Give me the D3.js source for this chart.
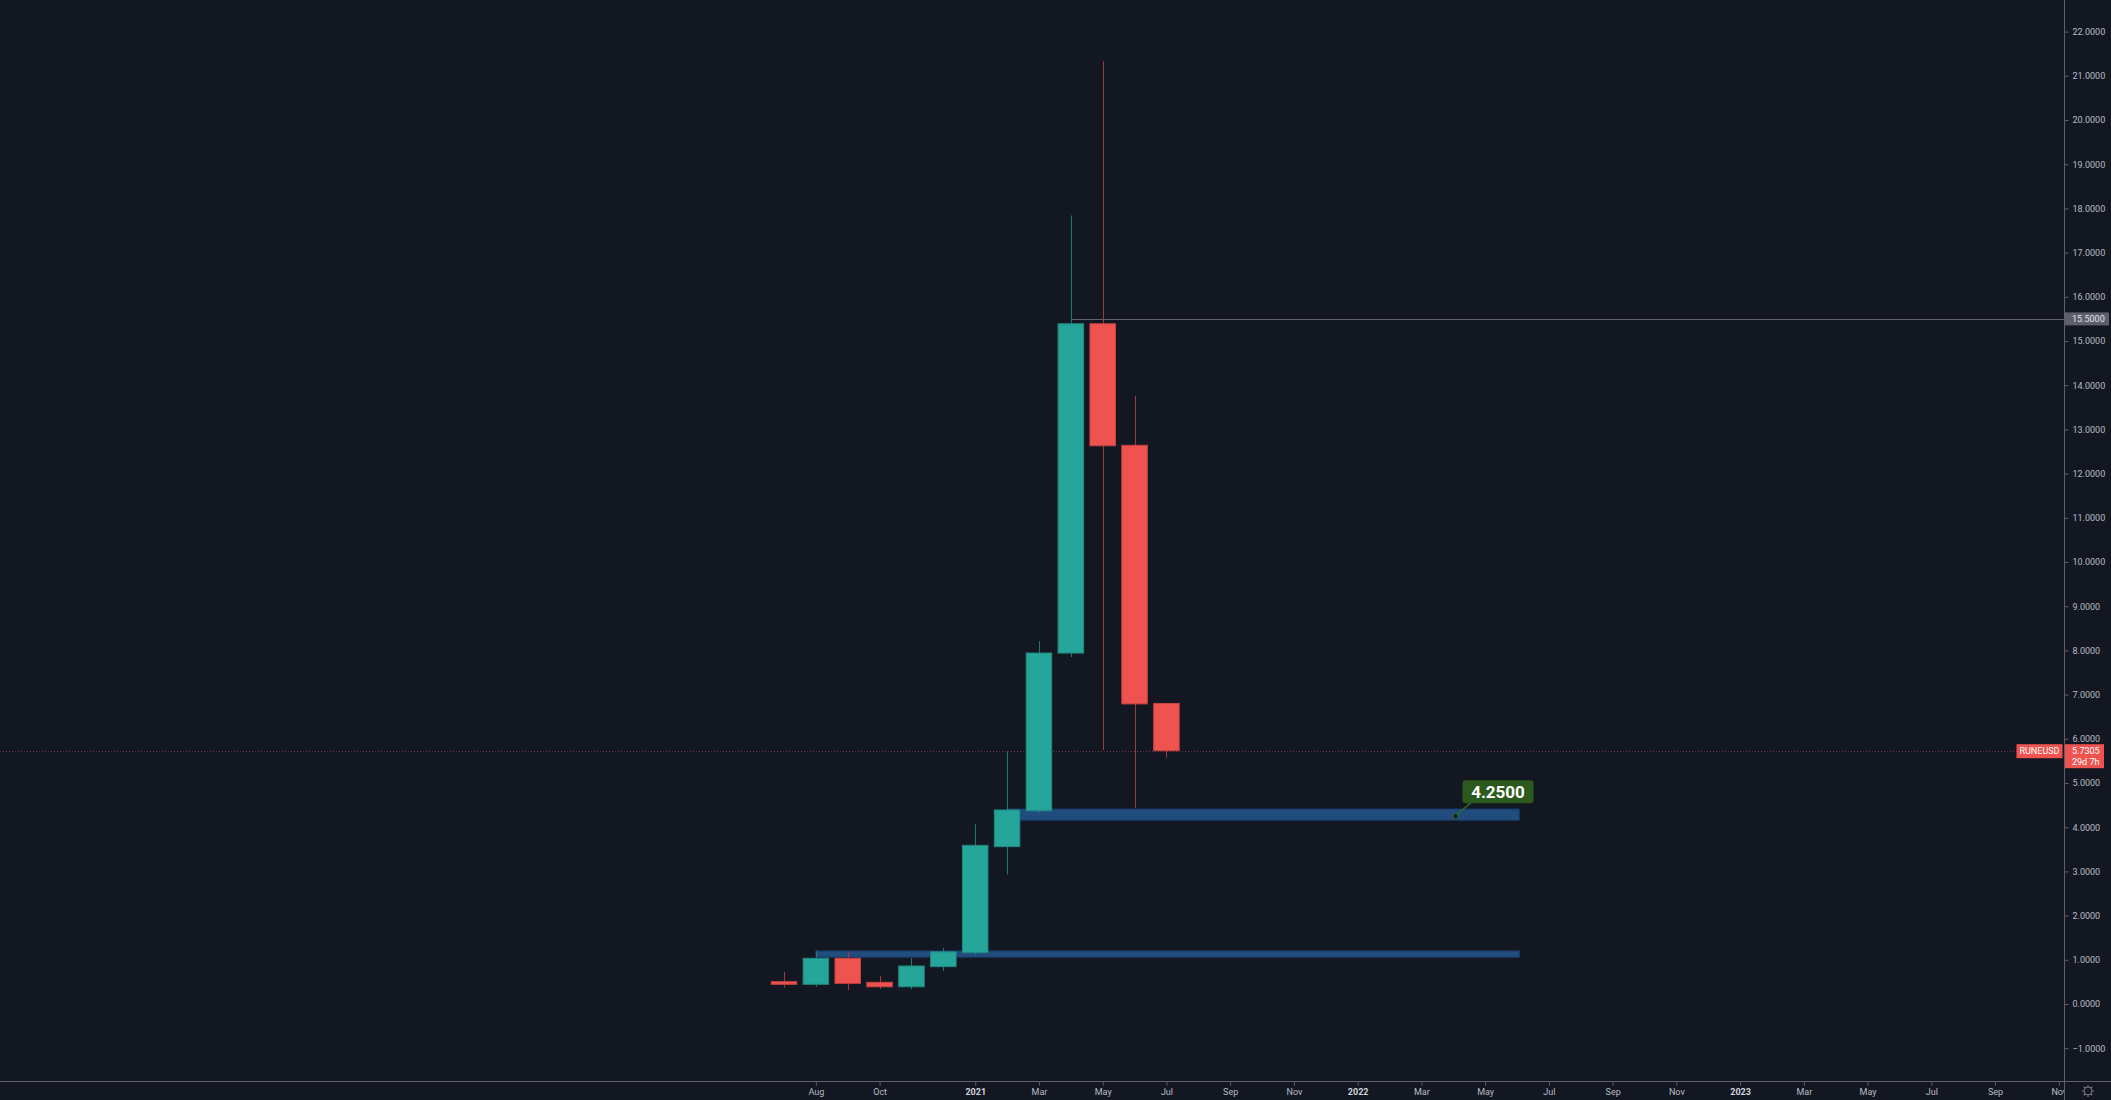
<!DOCTYPE html>
<html>
<head>
<meta charset="utf-8">
<script src="https://cdnjs.cloudflare.com/ajax/libs/d3/7.8.5/d3.min.js"></script>
<style>
	html, body { margin: 0; padding: 0; background: #131722; overflow: hidden; }
	svg { display: block; }
</style>
</head>
<body>
<div id="chart"></div>
<script>
// Monthly RUNEUSD candles, Jul 2020 .. Jul 2021 (index 0 = Jul 2020)
var months = ["2020-07", "2020-08", "2020-09", "2020-10", "2020-11", "2020-12",
              "2021-01", "2021-02", "2021-03", "2021-04", "2021-05", "2021-06", "2021-07"];
var opens  = [0.505, 0.446, 1.034, 0.49, 0.39, 0.845, 1.16, 3.56, 4.37, 7.94, 15.39, 12.64, 6.80];
var highs  = [0.724, 1.20, 1.18, 0.633, 1.04, 1.27, 4.07, 5.72, 8.21, 17.84, 21.33, 13.76, 6.80];
var lows   = [0.369, 0.39, 0.317, 0.333, 0.33, 0.75, 1.10, 2.93, 4.33, 7.85, 5.74, 4.44, 5.57];
var closes = [0.446, 1.034, 0.468, 0.39, 0.86, 1.18, 3.59, 4.39, 7.94, 15.39, 12.63, 6.79, 5.7305];

// Time axis labels (bar index from Jul 2020)
var tickMonths = [1, 3, 6, 8, 10, 12, 14, 16, 18, 20, 22, 24, 26, 28, 30, 32, 34, 36, 38, 40];
var monthNames = ["Jan", "Feb", "Mar", "Apr", "May", "Jun", "Jul", "Aug", "Sep", "Oct", "Nov", "Dec"];

// Price ticks
var priceTicks = d3.range(-1, 23, 1);

// Drawings: support zones (values and month index span)
var zoneTops    = [4.41, 1.20];
var zoneBottoms = [4.16, 1.06];
var zoneStarts  = [7, 1];
var zoneEnds    = [23.07, 23.07];

var calloutValue = 4.25;
var calloutIndex = 21.07;
var levelValue = 15.5;
var levelStart = 9;
var lastPrice = 5.7305;
var countdown = "29d 7h";
var symbol = "RUNEUSD";

var width = 2111, height = 1100;
var axisX = 2064, axisY = 1081;
var upColor = "#26a69a", downColor = "#ef5350";
var textColor = "#b8bbc3";
var fontFamily = "Roboto, 'Liberation Sans', Arial, sans-serif";
var fontSize = "9px";

var svg = d3.select("#chart")
	.append("svg")
		.attr("width", width)
		.attr("height", height);

svg.append("rect")
	.attr("width", width)
	.attr("height", height)
	.attr("fill", "#131722");

// Scales: bars are evenly spaced by index, like the original chart
var xScale = d3.scaleLinear()
	.domain([0, 40])
	.range([784, 784 + 31.87 * 40]);
var yScale = d3.scaleLinear()
	.domain([0, 22])
	.range([1004, 1004 - 44.2 * 22]);

var barW = 31.87 * 0.8;

svg.append("clipPath").attr("id", "plot-clip")
	.append("rect").attr("x", 0).attr("y", 0).attr("width", axisX).attr("height", axisY);

var plot = svg.append("g").attr("clip-path", "url(#plot-clip)");

// ------------------------------------------------------------------------
//		Zones
// ------------------------------------------------------------------------
plot.selectAll(".zone")
	.data(zoneTops)
	.enter().append("rect")
		.attr("class", "zone")
		.attr("x", function(d, i) { return xScale(zoneStarts[i]); })
		.attr("y", function(d) { return yScale(d); })
		.attr("width", function(d, i) { return xScale(zoneEnds[i]) - xScale(zoneStarts[i]); })
		.attr("height", function(d, i) { return yScale(zoneBottoms[i]) - yScale(d); })
		.attr("fill", "#214c7e")
		.attr("stroke", "#1a3d6e")
		.attr("stroke-width", 1);

// Horizontal 15.5 level
plot.append("line")
	.attr("x1", xScale(levelStart))
	.attr("x2", axisX)
	.attr("y1", Math.round(yScale(levelValue)) + 0.5)
	.attr("y2", Math.round(yScale(levelValue)) + 0.5)
	.attr("stroke", "#5f626d")
	.attr("stroke-width", 1);

// Last price dotted line
plot.append("line")
	.attr("x1", 0)
	.attr("x2", axisX)
	.attr("y1", Math.round(yScale(lastPrice)) + 0.5)
	.attr("y2", Math.round(yScale(lastPrice)) + 0.5)
	.attr("stroke", "#7a3338")
	.attr("stroke-width", 1)
	.attr("stroke-dasharray", "1,2");

// ------------------------------------------------------------------------
//		Candles
// ------------------------------------------------------------------------
var candles = plot.selectAll(".candle")
	.data(months)
	.enter().append("g")
		.attr("class", "candle");

candles.append("line")
	.attr("x1", function(d, i) { return Math.round(xScale(i)) + 0.5; })
	.attr("x2", function(d, i) { return Math.round(xScale(i)) + 0.5; })
	.attr("y1", function(d, i) { return yScale(highs[i]); })
	.attr("y2", function(d, i) { return yScale(lows[i]); })
	.attr("stroke", function(d, i) {
		return closes[i] >= opens[i] ? "#21776f" : "#9a3c40";
	})
	.attr("stroke-width", 1);

candles.append("rect")
	.attr("x", function(d, i) { return xScale(i) - barW / 2; })
	.attr("y", function(d, i) { return yScale(Math.max(opens[i], closes[i])); })
	.attr("width", barW)
	.attr("height", function(d, i) {
		return Math.max(2, Math.abs(yScale(opens[i]) - yScale(closes[i])));
	})
	.attr("fill", function(d, i) { return closes[i] >= opens[i] ? upColor : downColor; })
	.attr("stroke", function(d, i) { return closes[i] >= opens[i] ? "#1f8a80" : "#c94443"; })
	.attr("stroke-width", 1);

// ------------------------------------------------------------------------
//		Price callout
// ------------------------------------------------------------------------
var ax = xScale(calloutIndex), ay = yScale(calloutValue);
plot.append("line")
	.attr("x1", ax).attr("y1", ay)
	.attr("x2", ax + 16).attr("y2", ay - 14)
	.attr("stroke", "#2f6a22")
	.attr("stroke-width", 1.5);
plot.append("rect")
	.attr("x", ax + 7)
	.attr("y", ay - 36)
	.attr("width", 71)
	.attr("height", 23)
	.attr("rx", 3)
	.attr("fill", "#2c5a1e");
plot.append("text")
	.attr("x", ax + 42.5)
	.attr("y", ay - 24.5)
	.attr("text-anchor", "middle")
	.attr("dominant-baseline", "central")
	.style("font-family", fontFamily)
	.style("font-size", "17px")
	.style("font-weight", "bold")
	.style("fill", "#ffffff")
	.text(calloutValue.toFixed(4));
plot.append("circle")
	.attr("cx", ax).attr("cy", ay)
	.attr("r", 2.5)
	.attr("fill", "#131722")
	.attr("stroke", "#2f6a22")
	.attr("stroke-width", 1);

// ------------------------------------------------------------------------
//		Axes
// ------------------------------------------------------------------------
svg.append("line")
	.attr("x1", axisX + 0.5).attr("x2", axisX + 0.5)
	.attr("y1", 0).attr("y2", height)
	.attr("stroke", "#5d606b");
svg.append("line")
	.attr("x1", 0).attr("x2", width)
	.attr("y1", axisY + 0.5).attr("y2", axisY + 0.5)
	.attr("stroke", "#5d606b");

var yAxis = d3.axisRight(yScale)
	.tickValues(priceTicks)
	.tickSize(4)
	.tickPadding(4)
	.tickFormat(function(d) { return (d < 0 ? "\u2212" : "") + Math.abs(d).toFixed(4); });

var yAxisG = svg.append("g")
	.attr("transform", "translate(" + (axisX + 0.5) + ",0)")
	.call(yAxis);
yAxisG.select(".domain").remove();
yAxisG.selectAll("line").attr("stroke", "#5d606b");
yAxisG.selectAll("text")
	.style("font-family", fontFamily)
	.style("font-size", fontSize)
	.style("fill", textColor);

svg.append("clipPath").attr("id", "time-clip")
	.append("rect").attr("x", 0).attr("y", axisY).attr("width", axisX).attr("height", height - axisY);

function monthLabel(d) {
	var mIdx = (6 + d) % 12;
	var year = 2020 + Math.floor((6 + d) / 12);
	return mIdx == 0 ? String(year) : monthNames[mIdx];
}

var xAxis = d3.axisBottom(xScale)
	.tickValues(tickMonths)
	.tickSize(4)
	.tickPadding(3)
	.tickFormat(monthLabel);

var xAxisG = svg.append("g")
	.attr("clip-path", "url(#time-clip)")
	.append("g")
	.attr("transform", "translate(0," + (axisY + 0.5) + ")")
	.call(xAxis);
xAxisG.select(".domain").remove();
xAxisG.selectAll("line").attr("stroke", "#5d606b");
xAxisG.selectAll("text")
	.style("font-family", fontFamily)
	.style("font-size", fontSize)
	.style("fill", function(d) { return (6 + d) % 12 == 0 ? "#d1d4dc" : textColor; })
	.style("font-weight", function(d) { return (6 + d) % 12 == 0 ? "bold" : "normal"; });

// ------------------------------------------------------------------------
//		Axis labels for level and last price
// ------------------------------------------------------------------------
var ly = yScale(levelValue);
svg.append("rect")
	.attr("x", axisX + 1).attr("y", ly - 6.5)
	.attr("width", 44).attr("height", 13)
	.attr("fill", "#5d606b");
svg.append("text")
	.attr("x", axisX + 8).attr("y", ly)
	.attr("dominant-baseline", "central")
	.style("font-family", fontFamily)
	.style("font-size", fontSize)
	.style("fill", "#e0e3eb")
	.text(levelValue.toFixed(4));

var py = yScale(lastPrice);
svg.append("rect")
	.attr("x", 2016.5).attr("y", py - 6.5)
	.attr("width", 46).attr("height", 14)
	.attr("fill", downColor);
svg.append("text")
	.attr("x", 2039.5).attr("y", py + 0.5)
	.attr("text-anchor", "middle")
	.attr("dominant-baseline", "central")
	.style("font-family", fontFamily)
	.style("font-size", fontSize)
	.style("fill", "#ffffff")
	.text(symbol);
svg.append("rect")
	.attr("x", axisX + 1).attr("y", py - 6.5)
	.attr("width", 39).attr("height", 24)
	.attr("fill", downColor);
svg.append("text")
	.attr("x", axisX + 8).attr("y", py + 0.5)
	.attr("dominant-baseline", "central")
	.style("font-family", fontFamily)
	.style("font-size", fontSize)
	.style("fill", "#ffffff")
	.text(lastPrice.toFixed(4));
svg.append("text")
	.attr("x", axisX + 8).attr("y", py + 11)
	.attr("dominant-baseline", "central")
	.style("font-family", fontFamily)
	.style("font-size", fontSize)
	.style("fill", "#ffffff")
	.text(countdown);

// Settings gear in the corner
var gear = svg.append("g").attr("transform", "translate(2088,1091)");
gear.append("circle").attr("r", 4).attr("fill", "none").attr("stroke", "#787b86").attr("stroke-width", 1);
for (var k = 0; k < 8; k++) {
	var a = k * Math.PI / 4;
	gear.append("line")
		.attr("x1", Math.cos(a) * 4).attr("y1", Math.sin(a) * 4)
		.attr("x2", Math.cos(a) * 6).attr("y2", Math.sin(a) * 6)
		.attr("stroke", "#787b86").attr("stroke-width", 1.2);
}
</script>
</body>
</html>
